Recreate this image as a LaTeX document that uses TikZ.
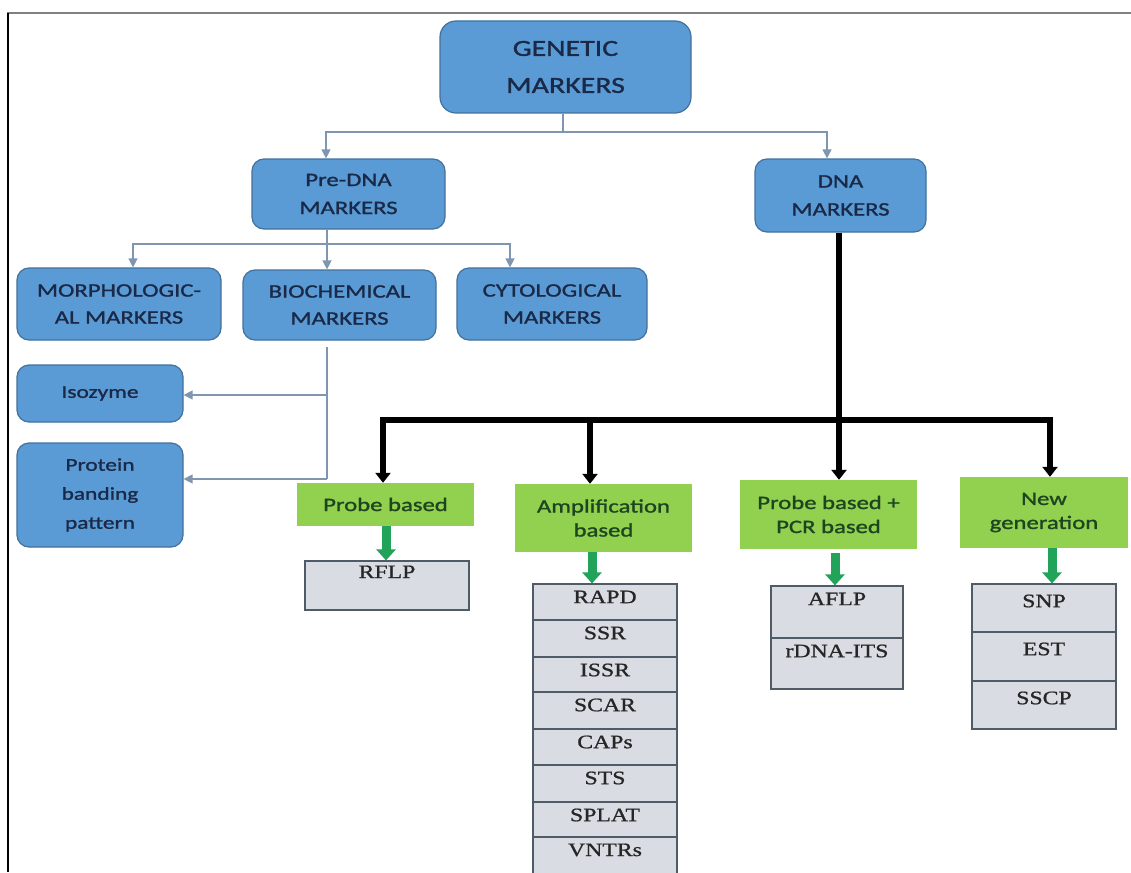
\documentclass[tikz,border=0pt]{standalone}
\usepackage{fontspec}
\usetikzlibrary{arrows.meta}
\newfontfamily\calfont[FakeStretch=1.3,FakeBold=1.3]{Carlito}
\newfontfamily\serfont[FakeStretch=1.25,FakeBold=1.0]{Liberation Serif}
\definecolor{bluefill}{HTML}{5B9BD5}
\definecolor{blueedge}{HTML}{41719C}
\definecolor{bluetext}{HTML}{1A2947}
\definecolor{greenfill}{HTML}{92D050}
\definecolor{greentext}{HTML}{1D4520}
\definecolor{greenarrow}{HTML}{22A35A}
\definecolor{cellfill}{HTML}{D9DCE2}
\definecolor{celledge}{HTML}{4F5B66}
\definecolor{greyline}{HTML}{7F95B0}
\definecolor{frametop}{HTML}{808080}
\tikzset{
  bluebox/.style={draw=blueedge, line width=1.2pt, fill=bluefill, rounded corners=12pt,
    text=bluetext, align=center, inner sep=0pt},
  greenbox/.style={fill=greenfill, text=greentext, align=center, inner sep=0pt,
    font=\calfont\fontsize{19}{24}\selectfont},
  cellbox/.style={draw=celledge, line width=1.2pt, fill=cellfill, inner sep=0pt},
  celltext/.style={anchor=north, text=black!85, font=\serfont\fontsize{19}{20}\selectfont, inner sep=0pt},
  greyarrow/.style={draw=greyline, line width=1.3pt, -{Triangle[width=9pt,length=9pt]}},
  greyline/.style={draw=greyline, line width=1.3pt},
  blackline/.style={draw=black, line width=6pt},
  blackarrow/.style={draw=black, line width=6pt, -{Triangle[width=15pt,length=10pt]}},
  greenarr/.style={draw=greenarrow, line width=9pt, -{Triangle[width=19pt,length=11pt]}},
}
\begin{document}
\begin{tikzpicture}[x=1pt,y=-1pt]
\useasboundingbox (0,0) rectangle (1131,872);
\fill[white] (0,0) rectangle (1131,872);
% frame lines
\coordinate (ftl) at (7,13);
\coordinate (ftr) at (1131,13);
\coordinate (fbl) at (8,872);
\draw[frametop, line width=2pt] (ftl) -- (ftr);
\draw[black, line width=2pt] (8,13) coordinate (ftl2) -- (fbl);

% blue boxes
\node[bluebox, rounded corners=16pt, minimum width=251pt, minimum height=92pt,
  font=\calfont\fontsize{23}{37}\selectfont] (genetic) at (565.5,67) {GENETIC\\MARKERS};
\node[bluebox, minimum width=193pt, minimum height=70pt,
  font=\calfont\fontsize{19}{28}\selectfont] (predna) at (348.5,194) {Pre-DNA\\MARKERS};
\node[bluebox, minimum width=171pt, minimum height=73pt,
  font=\calfont\fontsize{19}{28}\selectfont] (dna) at (840.5,195.5) {DNA\\MARKERS};
\node[bluebox, minimum width=204pt, minimum height=72pt,
  font=\calfont\fontsize{19}{27}\selectfont] (morph) at (119,304) {MORPHOLOGIC-\\AL MARKERS};
\node[bluebox, minimum width=193pt, minimum height=70pt,
  font=\calfont\fontsize{19}{27}\selectfont] (bio) at (339.5,305) {BIOCHEMICAL\\MARKERS};
\node[bluebox, minimum width=190pt, minimum height=72pt,
  font=\calfont\fontsize{19}{27}\selectfont] (cyto) at (552,304) {CYTOLOGICAL\\MARKERS};
\node[bluebox, minimum width=166pt, minimum height=57pt,
  font=\calfont\fontsize{18}{28}\selectfont] (iso) at (100,393.5) {Isozyme};
\node[bluebox, minimum width=166pt, minimum height=104pt,
  font=\calfont\fontsize{18}{29}\selectfont] (protein) at (100,495) {Protein\\banding\\pattern};

% green boxes
\node[greenbox, minimum width=177pt, minimum height=43pt] (probe) at (385.5,504.5) {Probe based};
\node[greenbox, minimum width=177pt, minimum height=68pt] (amp) at (603.5,518) {Amplification\\based};
\node[greenbox, minimum width=177pt, minimum height=69pt] (pcr) at (828.5,514.5) {Probe based +\\PCR based};
\node[greenbox, minimum width=168pt, minimum height=71pt] (newgen) at (1044,512.5) {New\\generation};

% cells: RFLP
\node[cellbox, minimum width=164pt, minimum height=49pt] (rflp) at (387,585.5) {};
\node[celltext] (rflpt) at ([yshift=-5pt]rflp.north) {RFLP};
% amplification list
\foreach \i/\t/\ya/\yb in {1/RAPD/584/620, 2/SSR/620/657, 3/ISSR/657/692, 4/SCAR/692/729,
  5/CAPs/729/765, 6/STS/765/802, 7/SPLAT/802/837, 8/VNTRs/837/874}{
  \node[cellbox, minimum width=144pt, minimum height={\yb-\ya}] (a\i) at (605,{(\ya+\yb)/2}) {};
  \node[celltext] (a\i t) at ([yshift=-7pt]a\i.north) {\t};
}
% AFLP list
\foreach \i/\t/\ya/\yb in {1/AFLP/586/638, 2/rDNA-ITS/638/689}{
  \node[cellbox, minimum width=132pt, minimum height={\yb-\ya}] (p\i) at (837,{(\ya+\yb)/2}) {};
  \node[celltext] (p\i t) at ([yshift=-7pt]p\i.north) {\t};
}
% SNP list
\foreach \i/\t/\ya/\yb in {1/SNP/584/632, 2/EST/632/681, 3/SSCP/681/729}{
  \node[cellbox, minimum width=144pt, minimum height={\yb-\ya}] (n\i) at (1044,{(\ya+\yb)/2}) {};
  \node[celltext] (n\i t) at ([yshift=-11pt]n\i.north) {\t};
}

% grey connectors from GENETIC MARKERS
\coordinate (j1) at (563,132);
\draw[greyline] (genetic.south -| j1) -- (j1);
\draw[greyarrow] (j1) -- (326,132) -- (326,0 |- predna.north);
\draw[greyarrow] (j1) -- (827,132) -- (827,0 |- dna.north);
% from Pre-DNA
\coordinate (j2) at (327,244);
\draw[greyline] (predna.south -| j2) -- (j2);
\draw[greyarrow] (j2) -- (133,244) -- (133,0 |- morph.north);
\draw[greyarrow] (j2) -- (327,0 |- bio.north);
\draw[greyarrow] (j2) -- (510,244) -- (510,0 |- cyto.north);
% from Biochemical
\coordinate (j3) at (327,347);
\coordinate (j4) at (327,479);
\draw[greyline] (j3) -- (j4);
\draw[greyarrow] (327,395) -- (iso.east |- 0,395);
\draw[greyarrow] (j4) -- (protein.east |- j4);

% black connectors from DNA MARKERS
\coordinate (j5) at (839,420);
\draw[blackline] (dna.south -| j5) -- (j5);
\draw[blackarrow] (j5) -- (383,420) -- (383,0 |- probe.north);
\draw[blackarrow] (590,420) -- (590,0 |- amp.north);
\draw[blackarrow] (j5) -- (839,0 |- pcr.north);
\draw[blackarrow] (j5) -- (1050,420) -- (1050,0 |- newgen.north);

% green arrows
\draw[greenarr] (386,0 |- probe.south) -- (386,0 |- rflp.north);
\draw[greenarr] (592,0 |- amp.south) -- (592,0 |- a1.north);
\draw[greenarr] (835,553) -- (835,0 |- p1.north);
\draw[greenarr] (1052,0 |- newgen.south) -- (1052,0 |- n1.north);
\end{tikzpicture}
\end{document}
